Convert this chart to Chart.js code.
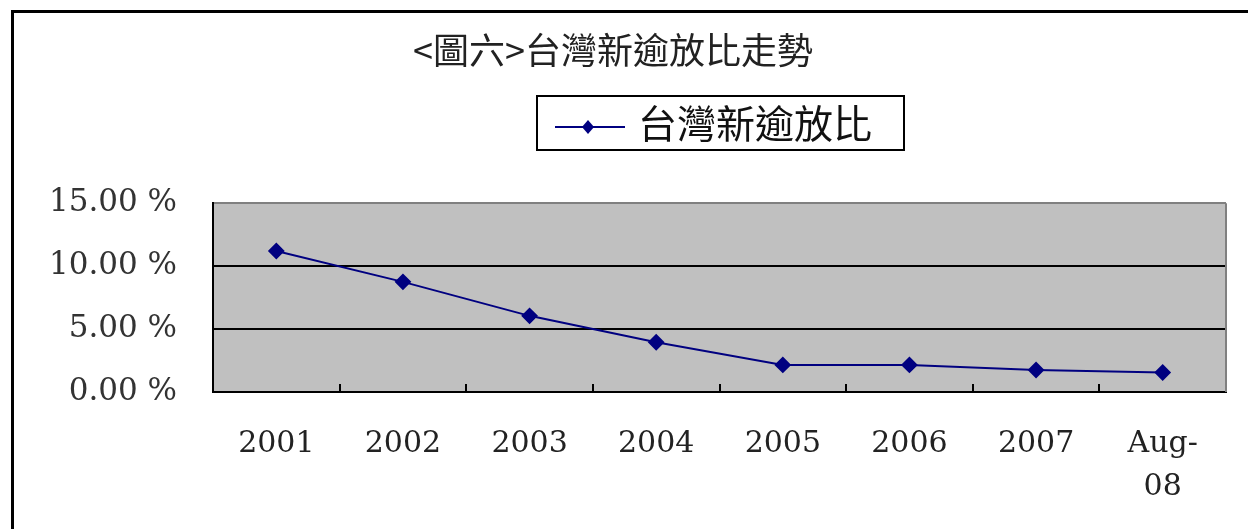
<!DOCTYPE html>
<html>
<head>
<meta charset="utf-8">
<script src="https://cdn.jsdelivr.net/npm/chart.js@4/dist/chart.umd.min.js"></script>
<style>
  html, body { margin: 0; padding: 0; background: #fff; }
  #wrap { width: 1248px; height: 529px; }
</style>
</head>
<body>
<div id="wrap"><canvas id="ar" width="1248" height="529"></canvas></div>
<script>
// data
const categories = ['2001', '2002', '2003', '2004', '2005', '2006', '2007', ['Aug-', '08']];
const nplRatio = [11.2, 8.75, 6.05, 3.95, 2.15, 2.15, 1.75, 1.55];
const yTicks = [0, 5, 10, 15];
const titleText = '<圖六>台灣新逾放比走勢';
const seriesName = '台灣新逾放比';

const navy = '#000080';

// gray plot area, outer frame and the boxed legend
const decor = {
    id: 'decor',
    beforeDraw(chart) {
        const { ctx, chartArea: a } = chart;
        ctx.save();
        ctx.fillStyle = '#fff';
        ctx.fillRect(0, 0, chart.width, chart.height);
        ctx.fillStyle = '#000';
        ctx.fillRect(11, 10, 3, chart.height - 10);
        ctx.fillRect(11, 10, chart.width - 11, 3);
        ctx.fillStyle = '#c0c0c0';
        ctx.fillRect(a.left, a.top, a.right - a.left, a.bottom - a.top);
        ctx.restore();
    },
    afterDraw(chart) {
        const { ctx, chartArea: a } = chart;
        const x = chart.scales.x;
        ctx.save();
        // right edge of plot
        ctx.strokeStyle = '#808080';
        ctx.lineWidth = 2;
        ctx.beginPath();
        ctx.moveTo(a.right, a.top);
        ctx.lineTo(a.right, a.bottom);
        ctx.stroke();
        // inward tick marks between categories
        ctx.strokeStyle = '#000';
        ctx.lineWidth = 2;
        for (let i = 1; i < categories.length; i++) {
            const px = Math.round((x.getPixelForValue(i - 1) + x.getPixelForValue(i)) / 2);
            ctx.beginPath();
            ctx.moveTo(px, a.bottom);
            ctx.lineTo(px, a.bottom - 8);
            ctx.stroke();
        }
        // legend box
        const bx = 537, by = 96, bw = 367, bh = 54;
        ctx.lineWidth = 2;
        ctx.strokeRect(bx, by, bw, bh);
        const ly = by + 31;
        ctx.strokeStyle = navy;
        ctx.lineWidth = 2;
        ctx.beginPath();
        ctx.moveTo(bx + 18, ly);
        ctx.lineTo(bx + 88, ly);
        ctx.stroke();
        ctx.fillStyle = navy;
        ctx.beginPath();
        ctx.moveTo(bx + 51, ly - 7);
        ctx.lineTo(bx + 57, ly);
        ctx.lineTo(bx + 51, ly + 7);
        ctx.lineTo(bx + 45, ly);
        ctx.closePath();
        ctx.fill();
        ctx.fillStyle = '#111';
        ctx.font = '39px "Noto Sans CJK TC"';
        ctx.textBaseline = 'middle';
        ctx.fillText(chart.data.datasets[0].label, bx + 101, by + bh / 2);
        ctx.restore();
    }
};

const ctx = document.getElementById('ar').getContext('2d');
const myChart = new Chart(ctx, {
    type: 'line',
    data: {
        labels: categories,
        datasets: [{
            label: seriesName,
            data: nplRatio,
            borderColor: navy,
            backgroundColor: navy,
            borderWidth: 2,
            pointStyle: 'rectRot',
            pointRadius: 7,
            tension: 0
        }]
    },
    options: {
        responsive: false,
        animation: false,
        layout: { padding: { left: 0, right: 22, top: 0, bottom: 0 } },
        plugins: {
            legend: { display: false },
            tooltip: { enabled: false },
            title: {
                display: true,
                text: titleText,
                color: '#222',
                font: { family: '"Noto Sans CJK TC"', size: 36, weight: 'normal' },
                padding: { top: 29, bottom: 131 }
            }
        },
        scales: {
            x: {
                offset: true,
                grid: { display: false, drawTicks: false },
                border: { color: '#000', width: 2 },
                ticks: {
                    color: '#222',
                    font: { family: '"DejaVu Serif"', size: 30, lineHeight: 1.45 },
                    padding: 30,
                    maxRotation: 0,
                    autoSkip: false
                },
                afterFit(scale) { scale.height = 137; }
            },
            y: {
                min: 0,
                max: 15,
                afterBuildTicks(scale) { scale.ticks = yTicks.map(v => ({ value: v })); },
                grid: {
                    drawTicks: false,
                    lineWidth: 2,
                    color: c => (c.tick && c.tick.value === 15 ? '#808080' : '#000')
                },
                border: { color: '#000', width: 2 },
                ticks: {
                    color: '#333',
                    font: { family: '"DejaVu Serif"', size: 31 },
                    padding: 36,
                    callback: v => v.toFixed(2) + ' %'
                },
                afterFit(scale) { scale.width = 213; }
            }
        }
    },
    plugins: [decor]
});

myChart.update();
</script>
</body>
</html>
